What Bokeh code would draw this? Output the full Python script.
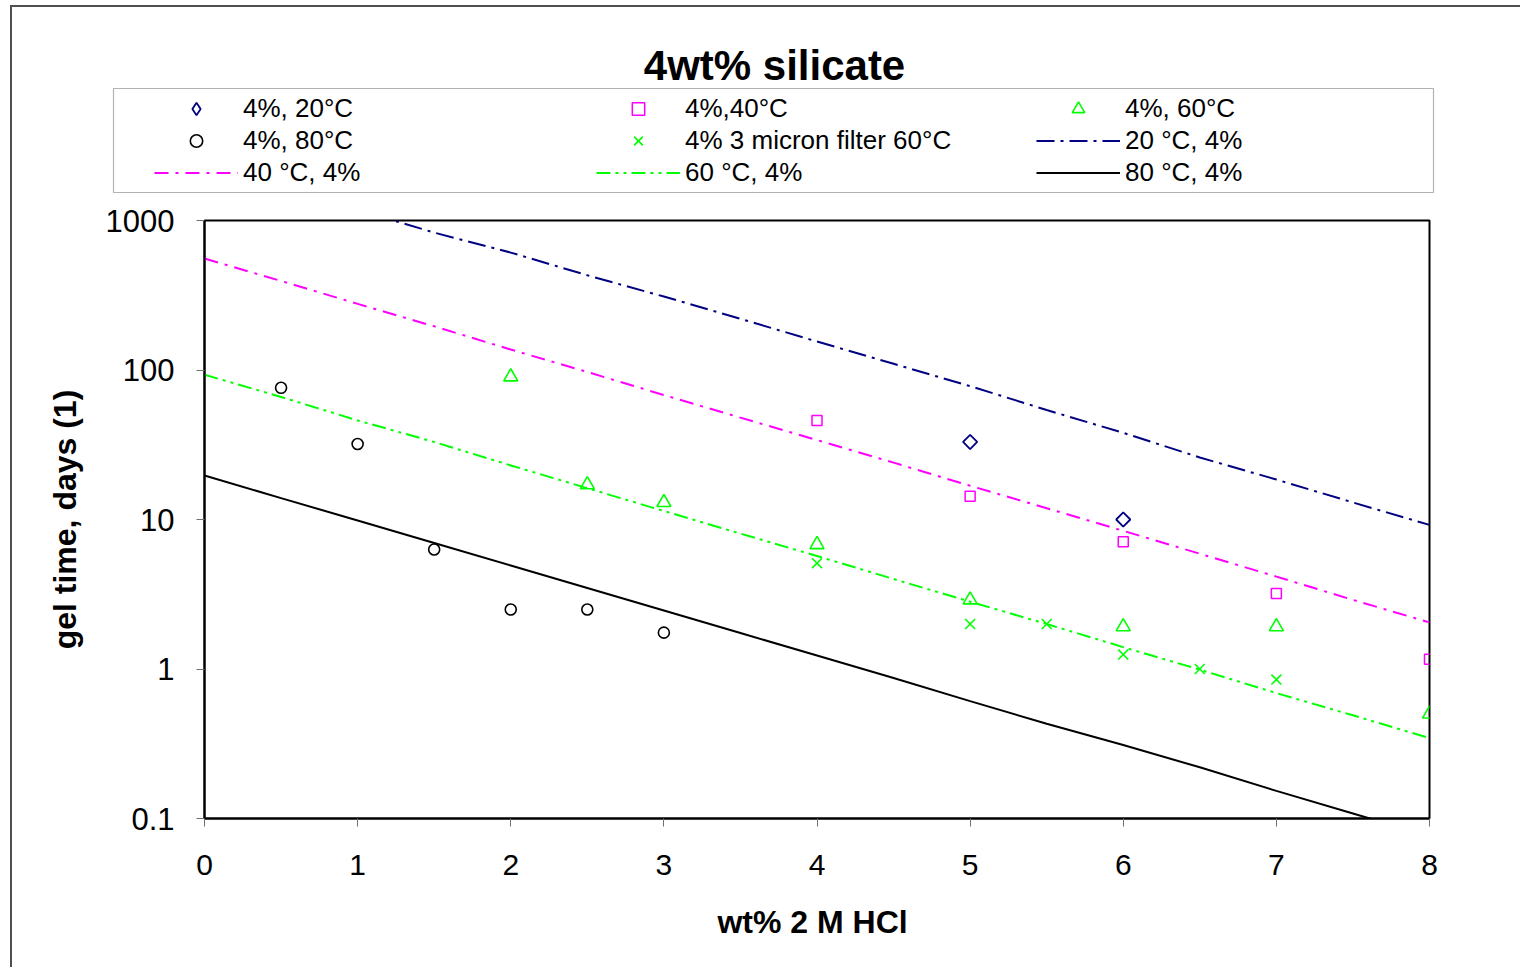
import math
from bokeh.plotting import figure
from bokeh.models import (FixedTicker, CustomJSTickFormatter, Legend, LegendItem,
                          Label, Range1d, BoxAnnotation)
from bokeh.embed import file_html
from bokeh.resources import INLINE

# ---------------- data ----------------
x_20c = [5, 6]
y_20c = [33, 10]

x_40c = [4, 5, 6, 7, 8]
y_40c = [46, 14.3, 7.1, 3.2, 1.16]

x_60c = [2, 2.5, 3, 4, 5, 6, 7, 8]
y_60c = [90, 17.1, 13, 6.8, 2.9, 1.92, 1.92, 0.5]

x_80c = [0.5, 1, 1.5, 2, 2.5, 3]
y_80c = [76, 32, 6.3, 2.5, 2.5, 1.75]

x_filter = [4, 5, 5.5, 6, 6.5, 7]
y_filter = [5.1, 2.0, 2.0, 1.25, 1.0, 0.85]

fit_x = [0, 0.5, 1, 1.5, 2, 2.5, 3, 3.5, 4, 4.5, 5, 5.5, 6, 6.5, 7, 7.5, 8]
fit20_x = [1.1, 1.5, 2, 2.5, 3, 3.5, 4, 4.5, 5, 5.5, 6, 6.5, 7, 7.5, 8]
fit20_y = [1100, 830, 610, 430, 310, 220, 155, 110, 78, 54, 38, 26, 18.5, 13, 9.2]
fit40_y = [557, 394, 277, 196, 137, 97, 68, 48, 34, 24, 16.8, 11.9, 8.4, 5.9, 4.15, 2.9, 2.05]
fit60_y = [93, 66, 46, 33, 23, 16.2, 11.4, 8.05, 5.7, 4.0, 2.82, 2.0, 1.4, 0.99, 0.69, 0.49, 0.345]
fit80_x = [0, 0.5, 1, 1.5, 2, 2.5, 3, 3.5, 4, 4.5, 5, 5.5, 6, 6.5, 7, 7.5, 7.7]
fit80_y = [19.7, 13.9, 9.85, 6.96, 4.92, 3.48, 2.46, 1.74, 1.23, 0.87, 0.61, 0.43, 0.31, 0.22, 0.153, 0.108, 0.094]

x_ticks = [0, 1, 2, 3, 4, 5, 6, 7, 8]
y_ticks = [0.1, 1, 10, 100, 1000]

legend_columns = [
    ["4%, 20°C", "4%, 80°C", "40 °C, 4%"],
    ["4%,40°C", "4% 3 micron filter 60°C", "60 °C, 4%"],
    ["4%, 60°C", "20 °C, 4%", "80 °C, 4%"],
]
title_text = "4wt% silicate"

FONT = "Liberation Sans"
NAVY = "#000080"
MAGENTA = "#FF00FF"
GREEN = "#00FF00"
NAN = float("nan")

STYLES = {
    "4%, 20°C": dict(kind="scatter", marker="square", angle=math.pi / 4, size=10,
                     line_color=NAVY, fill_color=None, line_width=1.8),
    "4%,40°C": dict(kind="scatter", marker="square", size=10, line_color=MAGENTA,
                    fill_color=None, line_width=1.5),
    "4%, 60°C": dict(kind="scatter", marker="triangle", size=14, line_color=GREEN,
                     fill_color=None, line_width=1.6),
    "4%, 80°C": dict(kind="scatter", marker="circle", size=11, line_color="black",
                     fill_color=None, line_width=1.6),
    "4% 3 micron filter 60°C": dict(kind="scatter", marker="x", size=14,
                                    line_color=GREEN, line_width=1.6),
    "20 °C, 4%": dict(kind="line", line_color=NAVY, line_width=2, line_dash="18 6 3 6"),
    "40 °C, 4%": dict(kind="line", line_color=MAGENTA, line_width=2, line_dash="14 7 3 7"),
    "60 °C, 4%": dict(kind="line", line_color=GREEN, line_width=2, line_dash="14 5 3 5 3 5"),
    "80 °C, 4%": dict(kind="line", line_color="black", line_width=2),
}


def draw(fig, name, xs, ys, legend_only=False):
    st = dict(STYLES[name])
    kind = st.pop("kind")
    if kind == "line":
        return fig.line(xs, ys, **st)
    if legend_only and st.get("angle"):
        # legend samples are drawn unrotated: use the diamond marker there
        st.pop("angle")
        st["marker"] = "diamond"
    return fig.scatter(xs, ys, **st)


BORDER = "2px solid #505050"

# ---------------- header (title + legend) ----------------
h = figure(width=1510, height=199, x_range=Range1d(0, 1), y_range=Range1d(0, 1),
           output_backend="svg", toolbar_location=None,
           x_axis_location=None, y_axis_location=None,
           min_border_left=0, min_border_right=0, min_border_top=0, min_border_bottom=0,
           margin=(5, 0, 0, 10))
h.styles = {"border-left": BORDER, "border-top": BORDER}
h.xgrid.visible = False
h.ygrid.visible = False
h.outline_line_color = None
h.background_fill_color = "white"
h.border_fill_color = "white"

box = BoxAnnotation(left=101, right=1421, bottom=14, top=118,
                    left_units="screen", right_units="screen",
                    bottom_units="screen", top_units="screen",
                    fill_color="white", fill_alpha=1,
                    line_color="black", line_width=1.2)
h.add_layout(box)

col_x = [142, 584, 1024]
for cx, names in zip(col_x, legend_columns):
    items = [LegendItem(label=n, renderers=[draw(h, n, [NAN], [NAN], legend_only=True)])
             for n in names]
    lg = Legend(items=items, location=(cx, 18), orientation="vertical",
                glyph_width=84, glyph_height=31, label_height=31,
                label_standoff=5, spacing=1, padding=0, margin=0,
                border_line_color=None, background_fill_alpha=0,
                label_text_font=FONT, label_text_font_size="26px",
                label_text_color="black")
    h.add_layout(lg)

title = Label(x=762, y=141, x_units="screen", y_units="screen", text=title_text,
              text_font=FONT, text_font_size="42px", text_font_style="bold",
              text_align="center", text_baseline="middle", text_color="black")
h.add_layout(title)

# ---------------- main plot ----------------
p = figure(width=1510, height=763, y_axis_type="log",
           x_range=Range1d(0, 8), y_range=Range1d(0.1, 1000),
           output_backend="svg", toolbar_location=None,
           min_border_left=192, min_border_right=93,
           min_border_top=16, min_border_bottom=149,
           margin=(0, 0, 0, 10))
p.styles = {"border-left": BORDER}
p.xgrid.visible = False
p.ygrid.visible = False
p.outline_line_color = "black"
p.outline_line_width = 2
p.background_fill_color = "white"
p.border_fill_color = "white"

p.xaxis.ticker = FixedTicker(ticks=x_ticks)
p.yaxis.ticker = FixedTicker(ticks=y_ticks)
p.yaxis.formatter = CustomJSTickFormatter(code="return String(tick);")
for ax in (p.xaxis[0], p.yaxis[0]):
    ax.axis_line_color = "black"
    ax.axis_line_width = 2
    ax.major_tick_in = 0
    ax.major_tick_out = 8
    ax.major_tick_line_color = "#707070"
    ax.major_tick_line_width = 1
    ax.minor_tick_line_color = None
    ax.major_label_text_font = FONT
    ax.major_label_text_font_size = "30px"
    ax.major_label_text_color = "black"
    ax.axis_label_text_font = FONT
    ax.axis_label_text_font_size = "32px"
    ax.axis_label_text_font_style = "bold"
    ax.axis_label_text_color = "black"
p.yaxis.major_label_text_font_size = "31px"
p.xaxis.axis_label = "wt%  2 M HCl"
p.yaxis.axis_label = "gel time, days (1)"
p.xaxis.major_label_standoff = 28
p.yaxis.major_label_standoff = 22
p.xaxis.axis_label_standoff = 26
p.yaxis.axis_label_standoff = 20

draw(p, "20 °C, 4%", fit20_x, fit20_y)
draw(p, "40 °C, 4%", fit_x, fit40_y)
draw(p, "60 °C, 4%", fit_x, fit60_y)
draw(p, "80 °C, 4%", fit80_x, fit80_y)
draw(p, "4%, 20°C", x_20c, y_20c)
draw(p, "4%,40°C", x_40c, y_40c)
draw(p, "4%, 60°C", x_60c, y_60c)
draw(p, "4%, 80°C", x_80c, y_80c)
draw(p, "4% 3 micron filter 60°C", x_filter, y_filter)

open("out.html", "w").write(file_html([h, p], INLINE))
